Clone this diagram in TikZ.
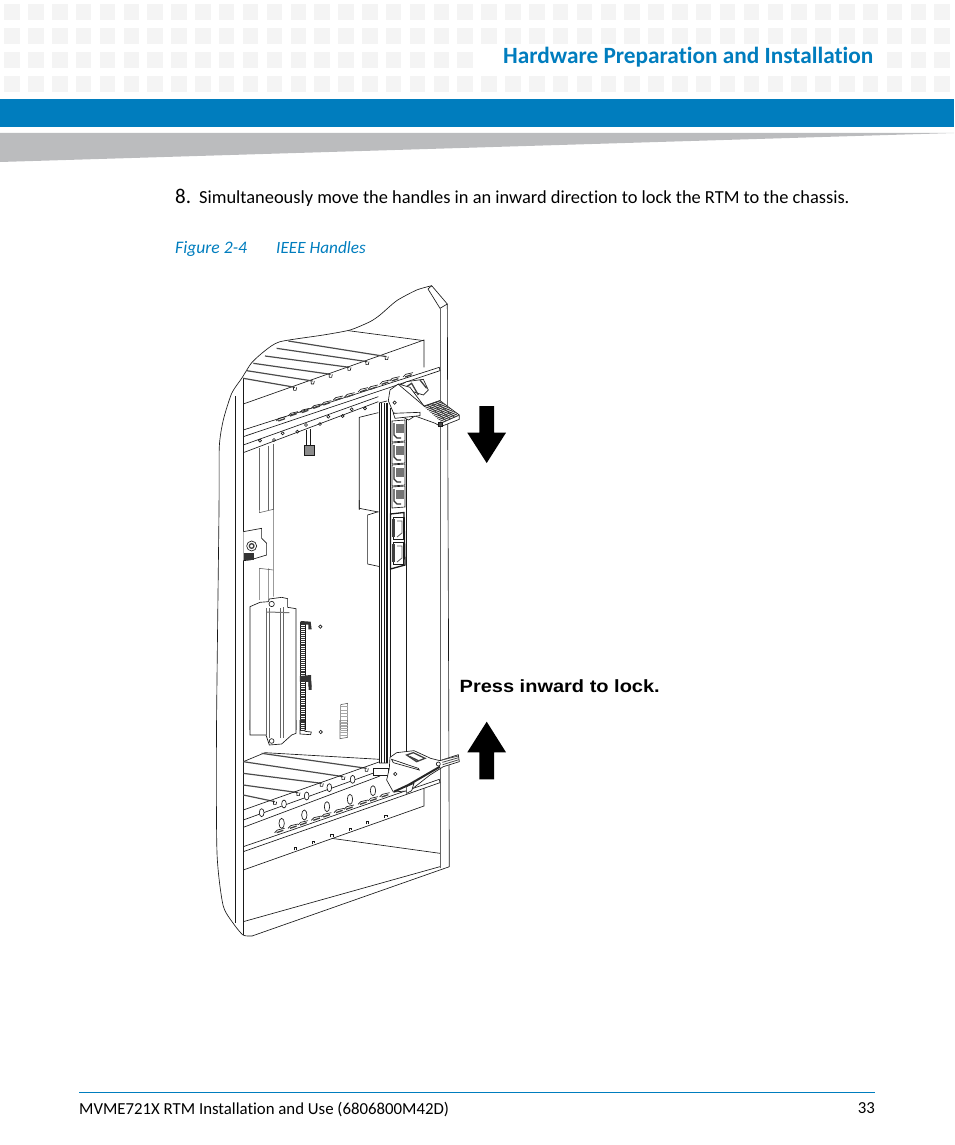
\documentclass[tikz,border=0pt]{standalone}
\usepackage{fontspec}
\setmainfont{Carlito}[Ligatures=NoCommon]
\newfontfamily\pressfont{Liberation Sans}[FakeStretch=1.13]
\usetikzlibrary{calc}
\definecolor{brandblue}{HTML}{007DBE}
\definecolor{wedgegray}{HTML}{BBBCBE}
\definecolor{dotgray}{HTML}{F4F4F4}
\tikzset{
  pagetext/.style={anchor=base west,inner sep=0pt,font=\fontsize{18.4}{20}\selectfont},
  chassis/.style={line width=0.65pt,black!90},
  inner part/.style={line width=0.6pt,black!60},
  slat/.style={line width=1.2pt,black!70},
  slot/.style={line width=1.3pt,black!75},
  blackarrow/.style={fill=black,draw=none},
  topview/.style={shift={(210,280)},x=0.3333pt,y=-0.3333pt},
  midview/.style={shift={(210,500)},x=0.3333pt,y=-0.3333pt},
  lowview/.style={shift={(210,720)},x=0.3333pt,y=-0.3333pt}
}
\begin{document}
\begin{tikzpicture}[x=1pt,y=-1pt]
  \useasboundingbox (0,0) rectangle (954,1145);
  % page header
  \foreach \r in {4,28,52,76}
    \foreach \c in {0,...,39}
      \fill[dotgray] ({4.3+23.85*\c},\r) rectangle ++(15.5,16);
  \fill[white] (475,48) rectangle (882,72);
  \fill[brandblue] (0,99) rectangle (954,127);
  \fill[wedgegray] (0,133) -- (954,133) -- (0,162) -- cycle;
  \node[pagetext,text=brandblue,font=\fontsize{23.3}{26}\selectfont\bfseries] (heading) at (503,63.5) {Hardware Preparation and Installation};
  \node[pagetext,font=\fontsize{21}{24}\selectfont] (stepnum) at (175,203) {8.};
  \node[pagetext] (steptext) at (199,203) {Simultaneously move the handles in an inward direction to lock the RTM to the chassis.};
  \node[pagetext,text=brandblue,font=\fontsize{17.6}{20}\selectfont\itshape] (figlabel) at (175,253) {Figure 2-4};
  \node[pagetext,text=brandblue,font=\fontsize{17.2}{20}\selectfont\itshape] (figtitle) at (276,253) {IEEE Handles};
  \node[pagetext,font=\pressfont\bfseries\fontsize{17.7}{20}\selectfont] (presslabel) at (459.5,692) {Press inward to lock.};
  \draw[brandblue,line width=1pt] (79,1092) -- (875,1092);
  \node[pagetext,font=\fontsize{16.8}{20}\selectfont] (foottext) at (79,1114) {MVME721X RTM Installation and Use (6806800M42D)};
  \node[pagetext,anchor=base east,font=\fontsize{16.8}{20}\selectfont] (pagenum) at (875,1113) {33};

  % outer frame of the chassis
  \draw[chassis] plot[smooth,tension=0.4] coordinates {(431.7,285.7) (416.7,290) (396.7,300.7) (380,315) (370,321.7) (350,330) (323.3,335) (280,341.7) (265,350.7) (251.7,362.7) (241.7,378.3) (231.7,393.3) (223.3,420) (219.3,446.7) (219,510) (216.5,730) (217,853) (223,905) (233,923) (243,935) (252,936)};
  \draw[chassis] (431.7,285.7) -- (447.3,304) -- (440,308.3) -- (428,289) -- (431.7,285.7);
  \draw[chassis] (447.3,304) -- (449.3,866.7) -- (252,936);
  \draw[inner part] (440,308.3) -- (440,868);
  \draw[chassis] (235,396) -- (235,923);
  \draw[chassis] (243.3,378) -- (243.3,935);

  % upper card guides
  \begin{scope}[topview]
    \draw[chassis] (100,372) -- (642,180) -- (642,262);
    \draw[chassis] (415,152) -- (642,182);
    \foreach \xa/\ya/\xb/\yb in {235/183/530/230,200/205/472/245,165/228/418/262,130/250/362/283,110/272/308/303,100/295/255/322} {
      \draw[slat] (\xa,\ya) -- (\xb,\yb);
      \draw[chassis] (\xb-5,\yb-2) -- (\xb-4,\yb+9) -- (\xb+3,\yb+9) -- (\xb+5,\yb);
    }
    \draw[chassis] (100,450) -- (688,262) -- (690,272) -- (100,470);
    \draw[chassis] (100,495) -- (505,350);
    \draw[chassis] (100,518) -- (505,365);
    \foreach \x/\y in {215/420,250/405,285/395,320/382,350/372,385/358,420/348,460/333,490/325,525/310,555/300,595/288} {
      \draw[slot] (\x-10,\y+3) -- (\x+10,\y-4);
      \draw[chassis] (\x-16,\y+3) -- (\x-8,\y-5) -- (\x+14,\y-10);
    }
    \foreach \x/\y in {150/482,192/480,218/460,262/455,288/435,330/432,355/410,398/408,425/388,465/385}
      \draw[chassis] (\x,\y) circle (4.5);
    % tab under the guide
    \draw[chassis] (288,450) -- (288,495) (302,448) -- (302,495);
    \fill[black!45] (283,495) rectangle (313,527);
    \draw[chassis] (283,495) rectangle (313,527);
    % board parts behind the panel
    \draw[chassis] (448,690) -- (448,412) -- (505,398);
    \draw[inner part] (147,505) -- (147,690) (175,497) -- (175,690) (190,492) -- (190,690);
  \end{scope}

  % middle of the board
  \begin{scope}[midview]
    \draw[inner part] (148,0) -- (148,38) -- (190,28) -- (190,35) (175,0) -- (175,30) (190,0) -- (190,290);
    \draw[chassis] (448,0) -- (448,25) -- (505,36);
    \draw[chassis] (505,35) -- (473,45) -- (473,192) -- (510,200);
    % bracket
    \draw[chassis,fill=white] (100,95) -- (155,85) -- (155,115) -- (170,130) -- (170,165) -- (120,180) -- (100,182);
    \draw[chassis] (125,138) circle (15);
    \draw[slot] (125,138) circle (7);
    \fill[black!80] (103,160) rectangle (133,180);
    \draw[inner part] (148,300) -- (148,205) -- (190,210) (175,205) -- (175,300);
    % connector block
    \draw[chassis,fill=white] (120,690) -- (120,320) -- (150,307) -- (175,305) -- (178,297) -- (215,292) -- (233,296) -- (233,322) -- (258,326) -- (258,690);
    \draw[inner part] (168,690) -- (168,325) (178,690) -- (178,325) (210,690) -- (210,325) (220,690) -- (220,322);
    \draw[chassis] (185,312) circle (8);
    \draw[line width=1pt,black!55] (170,336) -- (238,338);
    % header strips
    \foreach \a/\b in {368/530,540/690} {
      \draw[chassis] (270,\a) -- (270,\b) (285,\a) -- (285,\b);
      \foreach \t in {0,...,28}
        \draw[line width=0.7pt,black!80] (270,{\a+(\b-\a)*\t/28}) -- (285,{\a+(\b-\a)*\t/28});
      \fill[black!80] (272,\a-5) -- (302,\a-3) -- (305,\a+20) -- (295,\a+20) -- (295,\a+6) -- (272,\a+6) -- cycle;
    }
    \fill[black!80] (270,528) -- (303,525) -- (305,570) -- (296,570) -- (296,545) -- (270,545) -- cycle;
    \draw[chassis] (331,380) circle (5);
    % small connector
    \draw[inner part] (392,614) -- (413,610) -- (413,690) (392,614) -- (392,690);
    \foreach \t in {620,630,...,690}
      \draw[black!35,line width=0.5pt] (392,\t) -- (413,\t);
    % lower panel details
    \draw[inner part] (545,690) -- (545,415) -- (570,405) -- (585,400) -- (585,690);
    \foreach \y in {440,530,610}
      \draw[line width=1pt,black!50] (548,\y) -- (548,\y+25) (582,\y+25) -- (582,\y+50);
    \draw[chassis] (590,260) -- (590,690);
  \end{scope}

  % lower card guides
  \begin{scope}[lowview]
    \draw[chassis] (100,125) -- (165,98) -- (510,118);
    \foreach \xa/\ya/\xb/\yb in {155/100/470/145,100/125/400/170,100/160/335/190,100/195/265/218,100/225/195/245} {
      \draw[slat] (\xa,\ya) -- (\xb,\yb);
      \draw[chassis] (\xb-5,\yb-3) -- (\xb-4,\yb+9) -- (\xb+3,\yb+9) -- (\xb+5,\yb);
    }
    \draw[chassis] (100,270) -- (510,125);
    \draw[chassis] (100,300) -- (510,152);
    \draw[chassis] (100,322) -- (510,168);
    \draw[chassis] (100,380) -- (688,178) -- (690,188) -- (100,395);
    \draw[chassis] (100,450) -- (642,258) -- (642,205);
    \draw[chassis] (365,355) -- (690,400);
    \draw[chassis] (100,605) -- (690,440);
    \foreach \x/\y in {255/391,310/372,365/352,420/332,472/313,527/293}
      \draw[chassis] (\x-3,\y) -- (\x-3,\y-8) -- (\x+4,\y-8) -- (\x+4,\y-2);
    \foreach \x/\y in {155/278,222/252,290/228,358/203,428/178}
      \draw[chassis,fill=white] (\x,\y) ellipse (7 and 12);
    \foreach \x/\y in {215/310,283/285,351/260,420/238,489/212}
      \draw[chassis,fill=white] (\x,\y) ellipse (8 and 15);
    \foreach \x/\y in {210/335,250/322,280/312,320/298,350/288,388/275,418/265,460/250,490/240,525/228} {
      \draw[slot] (\x-10,\y+3) -- (\x+10,\y-4);
      \draw[chassis] (\x-16,\y+3) -- (\x-8,\y-5) -- (\x+14,\y-10);
    }
    % ends of the block and the strips
    \draw[chassis,fill=white] (120,0) -- (120,45) -- (168,45) -- (178,75) -- (215,72) -- (245,45) -- (258,40) -- (258,0);
    \draw[inner part] (168,0) -- (168,45) (178,0) -- (178,55) (210,0) -- (210,55) (220,0) -- (220,55);
    \draw[chassis] (185,63) circle (7);
    \draw[chassis] (270,0) -- (270,42) -- (302,44) -- (304,36) -- (285,34) -- (285,0);
    \foreach \t in {0,6,...,30}
      \draw[line width=0.7pt,black!80] (270,\t) -- (285,\t);
    \draw[chassis] (332,36) circle (5);
    \draw[inner part] (390,0) -- (390,56) -- (413,52) -- (413,0);
    \foreach \t in {6,16,...,46}
      \draw[black!35,line width=0.5pt] (390,\t) -- (413,\t);
    \draw[inner part] (545,0) -- (545,80) -- (585,72) -- (585,0);
    \draw[chassis] (590,0) -- (590,85);
    \draw[chassis,fill=white] (490,145) -- (535,145) -- (535,165) -- (490,165) -- cycle;
  \end{scope}

  % front panel
  \fill[white] (379,403) rectangle (407,765);
  \draw[chassis] (379,403) -- (379,763) (381.5,403) -- (381.5,763) (384,403) -- (384,763) (390,408) -- (390,760);
  \draw[line width=1.9pt,black!90] (387.3,403) -- (387.3,763);
  \draw[chassis] (379,403) -- (387,401) (379,763) -- (388,763);
  \draw[chassis] (406.7,415) -- (406.7,752);
  % upper ports
  \foreach \y in {421,443,465,487} {
    \draw[chassis] (392,\y) -- (405,\y-1) -- (405,\y+20) -- (392,\y+21) -- cycle;
    \fill[black!55] (395.5,\y+3) rectangle (404,\y+12);
    \draw[line width=1.2pt,black!80] (394,\y+2) -- (394,\y+14) -- (397,\y+17) -- (401,\y+17);
  }
  \draw[line width=1.3pt,black!90] (390.5,514) -- (404,512.5) -- (405,565) -- (390.5,569) -- cycle;
  \foreach \y in {517,542} {
    \draw[chassis,fill=white] (393,\y) rectangle (403,\y+22);
    \fill[black!75] (391.5,\y+2) rectangle (395,\y+20);
    \draw[line width=0.8pt,black!65] (397,\y+4) -- (402,\y+4) -- (402,\y+16) -- (397,\y+20);
  }

  % upper handle
  \begin{scope}[topview]
    \draw[chassis,fill=white] (562,320) -- (590,305) -- (640,298) -- (655,330) -- (640,345) -- cycle;
    \draw[slot] (590,320) -- (605,310) -- (625,345) (630,300) -- (650,325);
    \draw[chassis,fill=white] (540,330) -- (565,312) -- (600,322) -- (642,378) -- (690,362) -- (748,405) -- (748,418) -- (692,440) -- (676,430) -- (615,408) -- (596,420) -- (550,398) -- (535,362) -- cycle;
    \foreach \t in {0,...,11}
      \draw[line width=0.95pt,black!80] ($(642,380)!\t/11!(696,428)$) -- ($(690,362)!\t/11!(746,406)$);
    \foreach \t in {1,...,3}
      \draw[line width=0.7pt,black!75] ($(642,380)!\t/4!(690,362)$) -- ($(696,428)!\t/4!(746,406)$);
    \draw[chassis] (564,312) -- (642,378);
    \draw[chassis] (554,368) circle (5);
    \draw[chassis,fill=white] (550,400) -- (630,397) -- (630,407) -- (555,415) -- cycle;
    \draw[chassis,fill=black!70] (686,426) rectangle (696,438);
  \end{scope}

  % lower handle
  \begin{scope}[lowview]
    \draw[chassis,fill=white] (540,112) -- (560,98) -- (612,92) -- (662,115) -- (690,122) -- (745,104) -- (748,125) -- (700,140) -- (660,165) -- (600,212) -- (550,216) -- (530,180) -- (538,145) -- cycle;
    \draw[line width=2pt,black!85] (552,215) -- (595,195) -- (690,140);
    \draw[slot] (590,105) -- (610,98) -- (645,115) -- (620,125) -- cycle;
    \draw[slot] (600,110) -- (625,122);
    \draw[chassis,fill=white] (545,118) -- (625,145) -- (628,150) -- (550,128) -- cycle;
    \draw[chassis] (556,162) circle (5);
    \draw[chassis] (685,132) circle (6);
    \draw[chassis,fill=white] (590,200) -- (612,190) -- (605,212) -- (590,220) -- cycle;
    \draw[line width=0.8pt,black!70] (695,120) -- (745,108) (697,127) -- (746,113) (698,134) -- (747,119);
  \end{scope}

  % direction arrows
  \fill[blackarrow] (479.3,406) -- (494,406) -- (494,432.7) -- (506,432.7) -- (486.7,463) -- (467.3,432.7) -- (479.3,432.7) -- cycle;
  \fill[blackarrow] (479.3,779.3) -- (494,779.3) -- (494,752.3) -- (506,752.3) -- (486.7,721.7) -- (467.3,752.3) -- (479.3,752.3) -- cycle;
\end{tikzpicture}
\end{document}
